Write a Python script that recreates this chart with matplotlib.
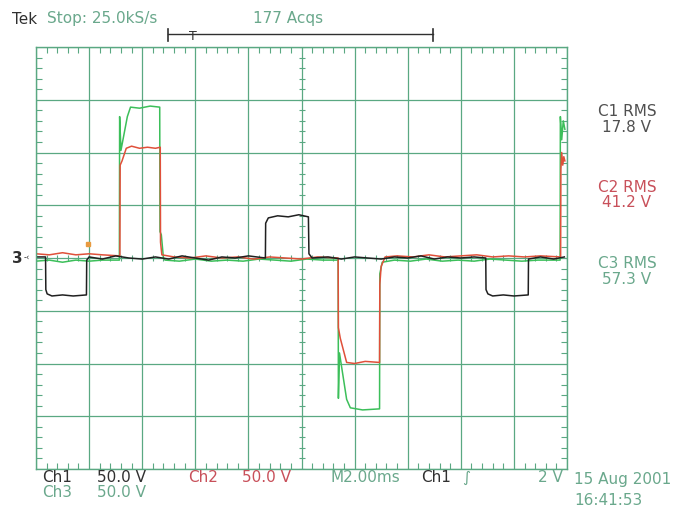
import numpy as np
import matplotlib
matplotlib.use("Agg")
from matplotlib import pyplot as plt
from matplotlib.ticker import MultipleLocator

# time in ms (2 ms/div), volts (50 V/div)
ch1_t = [0.00, 0.36, 0.37, 0.42, 0.60, 1.00, 1.40, 1.90, 1.91, 2.00, 2.50, 3.00, 3.50,
         4.00, 4.50, 5.00, 5.50, 6.00, 6.50, 7.00, 7.50, 8.00, 8.64, 8.65, 8.75, 9.10,
         9.50, 9.90, 10.26, 10.28, 10.40, 11.00, 11.50, 12.00, 12.50, 13.00, 13.50,
         14.00, 14.50, 15.00, 15.50, 16.00, 16.50, 16.94, 16.95, 17.02, 17.20, 17.60,
         18.00, 18.54, 18.55, 19.00, 19.50, 19.90]
ch1_v = [1, 1, -30, -34, -36, -35, -36, -35, -2, 1, -1, 2, 0,
         -1, 1, -1, 2, 0, -2, 1, 0, 2, 0, 33, 38, 40,
         39, 41, 39, 4, 0, 1, -1, 1, 0, -1, 1,
         0, 2, -1, 1, 0, 1, 0, -30, -34, -36, -35,
         -36, -35, -1, 1, -1, 1]

ch2_t = [0.00, 0.50, 1.00, 1.50, 2.00, 2.50, 3.16, 3.17, 3.24, 3.40, 3.60, 3.90, 4.20,
         4.50, 4.68, 4.69, 4.74, 5.20, 5.80, 6.40, 7.00, 7.60, 8.20, 8.80, 9.40, 10.00,
         10.60, 11.38, 11.39, 11.46, 11.70, 12.00, 12.40, 12.94, 12.95, 13.00, 13.15,
         13.60, 14.20, 14.80, 15.40, 16.00, 16.60, 17.20, 17.80, 18.40, 19.00, 19.76,
         19.77, 19.80, 19.84, 19.88, 19.92]
ch2_v = [4, 3, 5, 3, 4, 3, 2, 88, 92, 104, 106, 104, 105,
         104, 105, 15, 3, 1, 0, 2, 0, 1, -1, 1, 0, -1,
         1, 0, -66, -76, -99, -100, -98, -99, -25, -8, 1,
         2, 1, 3, 1, 2, 3, 1, 2, 1, 2, 1,
         84, 100, 88, 96, 92]

ch3_t = [0.00, 0.50, 1.00, 1.50, 2.00, 2.50, 3.14, 3.15, 3.20, 3.44, 3.56, 3.90, 4.30,
         4.66, 4.67, 4.72, 4.80, 4.86, 5.40, 6.00, 6.60, 7.20, 7.80, 8.40, 9.00, 9.60,
         10.20, 10.80, 11.38, 11.39, 11.43, 11.70, 11.84, 12.30, 12.94, 12.95, 13.04,
         13.50, 14.10, 14.70, 15.30, 15.90, 16.50, 17.10, 17.70, 18.30, 18.90, 19.74,
         19.75, 19.80, 19.86, 19.92]
ch3_v = [-3, -2, -4, -2, -3, -2, -2, 134, 102, 134, 143, 142, 144,
         143, 25, 22, 0, -2, -3, -1, -3, -2, -3, -1, -2, -3,
         -1, -2, -2, -133, -90, -134, -142, -144, -143, -15, -4,
         -2, -3, -1, -3, -2, -3, -1, -2, -3, -2, -2,
         134, 112, 130, 122]

rms_labels = ["C1 RMS", "C2 RMS", "C3 RMS"]
rms_values = ["17.8 V", "41.2 V", "57.3 V"]

grid_c = "#5aa882"
teal = "#6aa88c"
red_txt = "#c8505a"
W, H = 682, 510


def px(x, y):
    return x / W, 1 - y / H


fig = plt.figure(figsize=(6.82, 5.10), dpi=100)
ax = fig.add_axes([36 / W, 40 / H, 531 / W, 422 / H])
ax.set_xlim(0, 20)
ax.set_ylim(-200, 200)
ax.xaxis.set_major_locator(MultipleLocator(2))
ax.yaxis.set_major_locator(MultipleLocator(50))
ax.xaxis.set_minor_locator(MultipleLocator(0.4))
ax.yaxis.set_minor_locator(MultipleLocator(10))
ax.tick_params(which="both", direction="in", top=True, right=True,
               labelbottom=False, labelleft=False, color=grid_c)
ax.tick_params(which="major", length=0)
ax.tick_params(which="minor", length=4, width=0.8)
ax.grid(True, which="major", color=grid_c, lw=0.9)
for s in ax.spines.values():
    s.set_color(grid_c)
    s.set_linewidth(1.0)

# ticks on the centre lines
mt = np.arange(0, 20.01, 0.4)
ax.plot(mt, np.zeros_like(mt), "|", ms=5, mew=0.8, color=grid_c)
mv = np.arange(-200, 200.1, 10)
ax.plot(np.full_like(mv, 10.0), mv, "_", ms=5, mew=0.8, color=grid_c)

ax.plot(ch3_t, ch3_v, color="#3cbf5a", lw=1.1)
ax.plot(ch2_t, ch2_v, color="#e0503a", lw=1.1)
ax.plot(ch1_t, ch1_v, color="#202020", lw=1.1)

# trigger marker
ax.plot([1.96], [13], "s", ms=3, color="#e89a40")

# header
fig.text(*px(12, 19), "Tek", fontsize=11, color="#303030", va="center")
fig.text(*px(47, 19), "Stop: 25.0kS/s", fontsize=11, color=teal, va="center")
fig.text(*px(253, 19), "177 Acqs", fontsize=11, color=teal, va="center")
x0, x1 = px(168, 35)[0], px(433, 35)[0]
yb = px(0, 35)[1]
fig.add_artist(plt.Line2D([x0, x1], [yb, yb], color="#303030", lw=1.0))
for xx in (x0, x1):
    fig.add_artist(plt.Line2D([xx, xx], [px(0, 30)[1], px(0, 42)[1]], color="#303030", lw=1.2))
fig.text(*px(193, 36), "T", fontsize=9, color="#303030", ha="center", va="center")

# ground markers
fig.text(*px(12, 259), "3", fontsize=11, fontweight="bold", color="#303030", va="center")
fig.text(*px(24, 258), "-‹", fontsize=6, color="#303030", va="center")

# rms readouts
rms_colors = ["#505050", red_txt, teal]
for i, (lab, val) in enumerate(zip(rms_labels, rms_values)):
    y0 = [112, 187, 264][i]
    fig.text(*px(627, y0), lab, fontsize=11, color=rms_colors[i], ha="center", va="center")
    fig.text(*px(627, y0 + 16), val, fontsize=11, color=rms_colors[i], ha="center", va="center")

# footer
fig.text(*px(42, 478), "Ch1", fontsize=11, color="#303030", va="center")
fig.text(*px(97, 478), "50.0 V", fontsize=11, color="#303030", va="center")
fig.text(*px(188, 478), "Ch2", fontsize=11, color=red_txt, va="center")
fig.text(*px(242, 478), "50.0 V", fontsize=11, color=red_txt, va="center")
fig.text(*px(330, 478), "M2.00ms", fontsize=11, color=teal, va="center")
fig.text(*px(421, 478), "Ch1", fontsize=11, color="#303030", va="center")
fig.text(*px(462, 478), "∫", fontsize=11, color=teal, va="center")
fig.text(*px(563, 478), "2 V", fontsize=11, color=teal, ha="right", va="center")
fig.text(*px(574, 480), "15 Aug 2001", fontsize=11, color=teal, va="center")
fig.text(*px(42, 493), "Ch3", fontsize=11, color=teal, va="center")
fig.text(*px(97, 493), "50.0 V", fontsize=11, color=teal, va="center")
fig.text(*px(574, 501), "16:41:53", fontsize=11, color=teal, va="center")

fig.savefig("out.png", dpi=100)
